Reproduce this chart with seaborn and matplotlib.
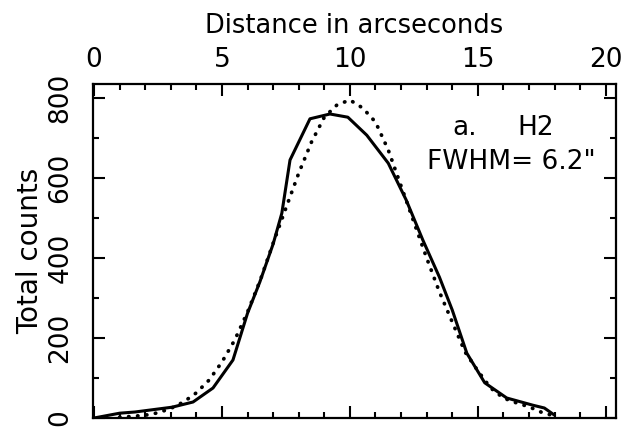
import matplotlib
matplotlib.use("Agg")
import matplotlib.pyplot as plt
import seaborn as sns
import pandas as pd

# Observed H2 slit profile (solid) and model profile (dotted)
obs_dist = [0.0, 1.0, 1.6, 3.05, 3.87, 4.65, 5.43, 6.0, 6.48, 7.0, 7.34, 7.66,
            8.44, 9.22, 9.92, 10.66, 11.5, 12.2, 12.85, 13.5, 14.0, 14.57,
            15.27, 16.13, 17.15, 17.6, 18.0]
obs_counts = [0, 12, 15, 27, 40, 75, 145, 262, 340, 435, 512, 645,
              748, 760, 752, 707, 637, 545, 445, 352, 270, 162,
              88, 50, 32, 25, 7]

model_dist = [1.0, 1.5, 2.0, 2.5, 3.0, 3.5, 4.0, 4.5, 5.0, 5.5, 6.0, 6.5,
              7.0, 7.5, 8.0, 8.5, 9.0, 9.5, 10.0, 10.5, 11.0, 11.5, 12.0,
              12.5, 13.0, 13.5, 14.0, 14.5, 15.0, 15.5, 16.0, 16.5, 17.0,
              17.5, 18.0]
model_counts = [2, 4, 7, 13, 24, 40, 63, 95, 140, 195, 265, 345,
                437, 525, 612, 690, 752, 783, 795, 775, 740, 670, 580,
                490, 400, 315, 240, 165, 118, 75, 50, 38, 28,
                14, 5]

x_ticks = [0, 5, 10, 15, 20]
y_ticks = [0, 200, 400, 600, 800]

sns.set_theme(style="ticks")
plt.rcParams["font.family"] = ["DejaVu Sans"]
plt.rcParams["text.color"] = "black"
plt.rcParams["axes.labelcolor"] = "black"

obs = pd.DataFrame({"dist": obs_dist, "counts": obs_counts})
model = pd.DataFrame({"dist": model_dist, "counts": model_counts})

fig = plt.figure(figsize=(6.23, 4.29), dpi=100)
ax = fig.add_axes([93 / 623, 1 - 418 / 429, 523 / 623, 334 / 429])

sns.lineplot(data=obs, x="dist", y="counts", ax=ax, color="black",
             linewidth=2.2, sort=False)
sns.lineplot(data=model, x="dist", y="counts", ax=ax, color="black",
             linewidth=2.7, sort=False, linestyle=(0, (0.1, 2.3)),
             dash_capstyle="round")

ax.set_xlim(-0.04, 20.4)
ax.set_ylim(0, 835)
ax.set_xticks(x_ticks)
ax.set_yticks(y_ticks)
ax.set_xticks(range(0, 21), minor=True)
ax.set_yticks(range(0, 801, 100), minor=True)

ax.tick_params(which="both", direction="in", top=True, bottom=True,
               left=True, right=True, labeltop=True, labelbottom=False,
               width=1.5, colors="black", labelsize=19)
ax.tick_params(which="major", length=8.5)
ax.tick_params(which="minor", length=4.5)
ax.tick_params(axis="x", which="major", pad=8)
ax.tick_params(axis="y", which="major", pad=14)
plt.setp(ax.get_yticklabels(), rotation=90, va="center")

ax.xaxis.set_label_position("top")
ax.set_xlabel("Distance in arcseconds", fontsize=18.5, labelpad=10)
ax.set_ylabel("Total counts", fontsize=20)
ax.yaxis.set_label_coords(-0.094, 0.5)

for sp in ax.spines.values():
    sp.set_visible(True)
    sp.set_linewidth(1.6)
    sp.set_color("black")

ax.text(0.688, 0.868, "a.", transform=ax.transAxes, fontsize=19,
        ha="left", va="center")
ax.text(0.811, 0.868, "H2", transform=ax.transAxes, fontsize=19,
        ha="left", va="center")
ax.text(0.639, 0.766, "FWHM= 6.2\"", transform=ax.transAxes, fontsize=19,
        ha="left", va="center")

fig.savefig("out.png", dpi=100)
